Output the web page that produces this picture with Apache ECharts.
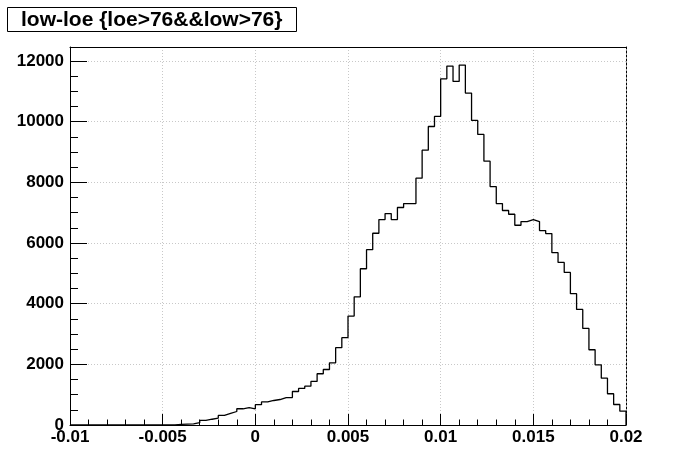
<!DOCTYPE html>
<html><head><meta charset="utf-8">
<script src="https://cdn.jsdelivr.net/npm/echarts@6/dist/echarts.min.js"></script>
<style>html,body{margin:0;padding:0;background:#fff}#c{width:696px;height:472px}</style>
</head><body><div id="c"></div>
<script>
// ---- data ----
const titleText = 'low-loe {loe>76&&low>76}';
const binLow = -0.01;
const binHigh = 0.02;
const counts = [
  0,0,0,0,0,0,0,0,0,0,
  0,0,0,0,0,0,0,20,30,40,
  75,150,190,225,315,380,445,535,570,535,
  670,760,808,840,905,905,1105,1205,1280,1435,
  1690,1830,2050,2550,2880,3590,4225,5150,5780,6320,
  6770,6970,6770,7170,7300,7300,8135,9060,9840,10170,
  11410,11830,11325,11865,10940,10040,9577,8695,7860,7300,
  7070,6947,6584,6705,6770,6705,6410,6310,5680,5360,
  5030,4330,3810,3185,2480,1985,1545,1030,675,455
];
const xTickValues = [-0.01, -0.005, 0, 0.005, 0.01, 0.015, 0.02];
const xMinorStep = 0.001;
const yTickValues = [0, 2000, 4000, 6000, 8000, 10000, 12000];
const yMinorStep = 500;
const yMax = 12460;

// ---- build ----
const nBins = counts.length;
const bw = (binHigh - binLow) / nBins;
const histData = [];
for (let i = 0; i < nBins; i++) histData.push([binLow + i * bw, counts[i]]);
histData.push([binHigh, counts[nBins - 1]]);
histData.push([binHigh, 0]);
const yMinorValues = [];
for (let v = 0; v <= yTickValues[yTickValues.length - 1]; v += yMinorStep) yMinorValues.push(v);
const xMinorValues = [];
const nXMinor = Math.round((binHigh - binLow) / xMinorStep);
for (let k = 0; k <= nXMinor; k++) xMinorValues.push(+(binLow + k * xMinorStep).toFixed(6));

const FONT = '"Liberation Sans", Arial, Helvetica, sans-serif';
const gridLine = { show: true, lineStyle: { color: '#c8c8c8', type: [1, 2], width: 1 } };
const blackLine = { show: true, onZero: false, lineStyle: { color: '#000', width: 1 } };
const none = { show: false };

function tickAxisX(values, len) {
  return {
    type: 'value', position: 'bottom', min: binLow, max: binHigh,
    axisLine: { show: false, onZero: false },
    axisTick: { show: true, inside: true, length: len, customValues: values, lineStyle: { color: '#000', width: 1 } },
    axisLabel: none, splitLine: none
  };
}
function tickAxisY(values, len) {
  return {
    type: 'value', position: 'left', min: 0, max: yMax,
    axisLine: { show: false, onZero: false },
    axisTick: { show: true, inside: true, length: len, customValues: values, lineStyle: { color: '#000', width: 1 } },
    axisLabel: none, splitLine: none
  };
}

const chart = echarts.init(document.getElementById('c'), null, { renderer: 'canvas' });
chart.setOption({
  animation: false,
  backgroundColor: '#ffffff',
  title: {
    text: titleText,
    left: 7, top: 7,
    padding: [1, 14, 0, 14],
    borderColor: '#000', borderWidth: 1,
    textStyle: { fontFamily: FONT, fontWeight: 'bold', fontSize: 21, color: '#000', lineHeight: 24 }
  },
  grid: { left: 70, right: 70, top: 47, bottom: 47, containLabel: false },
  xAxis: [{
    type: 'value', position: 'bottom', min: binLow, max: binHigh, interval: 0.005,
    axisLine: blackLine,
    axisTick: none,
    axisLabel: {
      show: true, customValues: xTickValues, margin: 4,
      fontFamily: FONT, fontWeight: 'bold', fontSize: 17, color: '#000', lineHeight: 17,
      formatter: v => String(+(+v).toFixed(4))
    },
    splitLine: gridLine
  }, {
    type: 'value', position: 'top', min: binLow, max: binHigh,
    axisLine: blackLine,
    axisTick: none, axisLabel: none, splitLine: none
  },
    tickAxisX(xTickValues, 11),
    tickAxisX(xMinorValues, 5.5)
  ],
  yAxis: [{
    type: 'value', position: 'left', min: 0, max: yMax, interval: 2000,
    axisLine: blackLine,
    axisTick: none,
    axisLabel: {
      show: true, customValues: yTickValues, margin: 6,
      fontFamily: FONT, fontWeight: 'bold', fontSize: 17, color: '#000',
      formatter: v => String(v)
    },
    splitLine: gridLine
  }, {
    type: 'value', position: 'right', min: 0, max: yMax,
    axisLine: { show: true, onZero: false, lineStyle: { color: '#000', width: 1, type: [2, 2] } },
    axisTick: none, axisLabel: none, splitLine: none
  },
    tickAxisY(yTickValues, 17),
    tickAxisY(yMinorValues, 8)
  ],
  series: [{
    type: 'line', step: 'end', symbol: 'none',
    xAxisIndex: 0, yAxisIndex: 0,
    lineStyle: { color: '#000', width: 1.3 },
    data: histData
  }]
});
</script>
</body></html>
